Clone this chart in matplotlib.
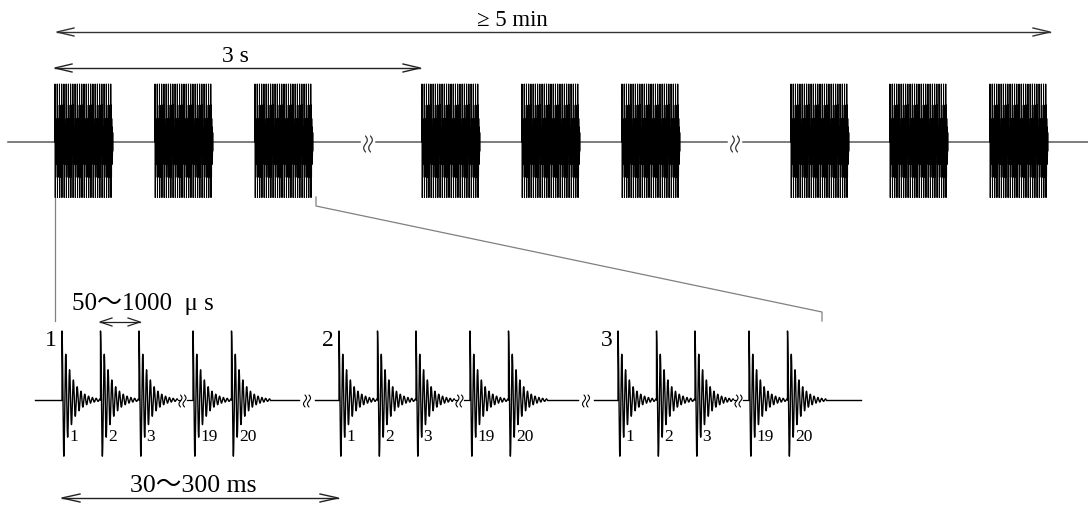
import numpy as np
import matplotlib
matplotlib.use("Agg")
import matplotlib.pyplot as plt

# ---------------- data (diagram units ~ pixels) ----------------
top_burst_starts = [55, 155, 255, 422, 522, 622, 791, 890, 990]
top_burst_width = 58
top_pulses_per_burst = 26
top_breaks = [368, 735]

train_starts = [62, 339, 618]
train_labels = ["1", "2", "3"]
pulse_offsets = [0, 38.5, 77, 131, 169.5]
pulse_labels = ["1", "2", "3", "19", "20"]
inner_break_offset = 120.5
train_end_breaks = [307, 586]

span_labels = ["≥ 5 min", "3 s", "50～1000  μ s", "30～300 ms"]

W, H = 1088, 506
fig = plt.figure(figsize=(W / 100, H / 100), dpi=100)
ax = fig.add_axes([0, 0, 1, 1])
ax.set_xlim(0, W)
ax.set_ylim(H, 0)
ax.axis("off")

serif = ["Liberation Serif", "Noto Sans CJK JP", "DejaVu Sans"]


def pulse(t0, base, up, period, tau, length, n=1200, down_scale=1.0):
    t = np.linspace(0, length, n)
    c = np.cos(2 * np.pi * t / period)
    c = np.where(c < 0, c * down_scale, c)
    y = up * np.exp(-t / tau) * c
    xs = np.concatenate([[t0], t0 + t])
    ys = np.concatenate([[base], base - y])
    return xs, ys


def break_mark(cx, yc, h, color, lw, sep, wamp):
    s = np.linspace(0, 1, 60)
    for dx in (-sep / 2, sep / 2):
        xx = cx + dx + wamp * np.sin(2 * np.pi * s)
        yy = yc - h / 2 + h * s
        ax.plot(xx, yy, color=color, lw=lw, solid_capstyle="round")


def arrow(x0, x1, y, hl, hw, color, lw):
    ax.plot([x0, x1], [y, y], color=color, lw=lw)
    ax.plot([x0 + hl, x0, x0 + hl], [y - hw, y, y + hw], color=color, lw=lw)
    ax.plot([x1 - hl, x1, x1 - hl], [y - hw, y, y + hw], color=color, lw=lw)


# ---------------- top: burst overview ----------------
base_top = 143
gray = "#5a5a5a"
segs = [8] + sum([[b - 8, b + 8] for b in top_breaks], []) + [1088]
for a, b in zip(segs[0::2], segs[1::2]):
    ax.plot([a, b], [base_top, base_top], color=gray, lw=1.1)
for b in top_breaks:
    break_mark(b, 145, 16, "#333333", 0.9, 5, 1.8)

for bs in top_burst_starts:
    step = top_burst_width / top_pulses_per_burst
    for k in range(top_pulses_per_burst):
        xs, ys = pulse(bs + k * step, base_top, 58, 0.5, 1.1, step * 1.0,
                       n=400, down_scale=1.2)
        ax.plot(xs, ys, color="black", lw=0.75)

# arrows top
arrow(57, 1050, 33, 17, 4, "#333333", 1.0)
ax.text(512, 20, span_labels[0], ha="center", va="center", fontsize=16.5, family=serif)
arrow(55, 420, 69, 17, 4, "#222222", 1.0)
ax.text(235, 56, span_labels[1], ha="center", va="center", fontsize=17, family=serif)

# connector lines
lc = "#808080"
ax.plot([55, 55], [199, 322], color=lc, lw=0.9)
ax.plot([316, 316, 822, 822], [198, 207, 313, 322], color=lc, lw=0.9)

# ---------------- bottom: pulse trains ----------------
base_b = 401
ax.plot([35, train_starts[0]], [base_b, base_b], color="black", lw=1.0)
for g, ts in enumerate(train_starts):
    for j, off in enumerate(pulse_offsets):
        p0 = ts + off
        xs, ys = pulse(p0, base_b, 69, 3.8, 9.2, 38.5)
        ax.plot(xs, ys, color="black", lw=1.0)
        ax.text(p0 + 7.5, 437, pulse_labels[j], ha="left", va="center",
                fontsize=12.5, family=serif)
    ax.text(ts - 5, 340, train_labels[g], ha="right", va="center",
            fontsize=17, family=serif)
    bx = ts + inner_break_offset
    ax.plot([ts + pulse_offsets[2] + 38.5, bx - 3], [base_b, base_b], color="black", lw=0.9)
    ax.plot([bx + 4, ts + pulse_offsets[3]], [base_b, base_b], color="black", lw=0.9)
    break_mark(bx, 402, 12, "black", 0.8, 4, 1.5)
    tail_end = train_end_breaks[g] - 8 if g < len(train_end_breaks) else 861
    ax.plot([ts + pulse_offsets[4] + 38.5, tail_end], [base_b, base_b], color="black", lw=1.0)
    if g < len(train_end_breaks):
        eb = train_end_breaks[g]
        break_mark(eb, 402, 12, "black", 0.8, 4, 1.5)
        ax.plot([eb + 8, train_starts[g + 1]], [base_b, base_b], color="black", lw=1.0)

# bottom annotations
ax.text(72, 304, span_labels[2], ha="left", va="center", fontsize=18, family=serif)
arrow(100, 140, 323, 12, 4, "#222222", 0.9)
ax.text(193, 486, span_labels[3], ha="center", va="center", fontsize=18.5, family=serif)
arrow(62, 338, 499, 18, 4, "#222222", 1.0)

fig.savefig("out.png", dpi=100)
